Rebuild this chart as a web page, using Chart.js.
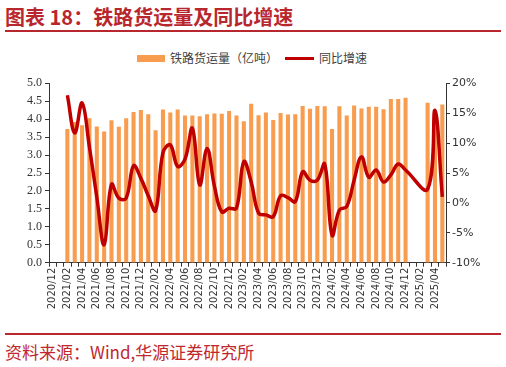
<!DOCTYPE html>
<html>
<head>
<meta charset="utf-8">
<script src="https://cdn.jsdelivr.net/npm/chart.js@4/dist/chart.umd.min.js"></script>
<style>
  html, body { margin: 0; padding: 0; background: #fff; }
  body { width: 506px; height: 367px; position: relative; overflow: hidden; font-family: "Noto Sans CJK SC", sans-serif; }
  #title { position: absolute; left: 5px; top: 2px; font-size: 20px; font-weight: bold; color: #b8272d; white-space: nowrap; letter-spacing: 0px; }
  #topline { position: absolute; left: 5px; top: 30px; width: 496px; height: 1.5px; background: #b8272d; }
  #botline { position: absolute; left: 5px; top: 333px; width: 496px; height: 1.5px; background: #b8272d; }
  #source { position: absolute; left: 5px; top: 341px; font-size: 17px; color: #c0282e; white-space: nowrap; line-height: 22px; }
  .leg { position: absolute; font-size: 12px; color: #404040; white-space: nowrap; line-height: 14px; }
  #legBar { position: absolute; left: 137px; top: 55px; width: 28px; height: 7px; background: #F89C4F; }
  #legLine { position: absolute; left: 285px; top: 57px; width: 29px; height: 3px; background: #C00000; }
  canvas { position: absolute; left: 0; top: 70px; }
</style>
</head>
<body>
<div id="title">图表 18：铁路货运量及同比增速</div>
<div id="topline"></div>
<div id="legBar"></div>
<div class="leg" style="left:170px; top:51px;">铁路货运量（亿吨）</div>
<div id="legLine"></div>
<div class="leg" style="left:319px; top:51px;">同比增速</div>
<canvas id="c" width="506" height="250"></canvas>
<div id="botline"></div>
<div id="source">资料来源：Wind,华源证券研究所</div>
<script>
const months = [
  "2020/12",
  "2021/01","2021/02","2021/03","2021/04","2021/05","2021/06","2021/07","2021/08","2021/09","2021/10","2021/11","2021/12",
  "2022/01","2022/02","2022/03","2022/04","2022/05","2022/06","2022/07","2022/08","2022/09","2022/10","2022/11","2022/12",
  "2023/01","2023/02","2023/03","2023/04","2023/05","2023/06","2023/07","2023/08","2023/09","2023/10","2023/11","2023/12",
  "2024/01","2024/02","2024/03","2024/04","2024/05","2024/06","2024/07","2024/08","2024/09","2024/10","2024/11","2024/12",
  "2025/01","2025/02","2025/03","2025/04","2025/05"
];
const freightVolume = [
  null,
  null, 3.72, 3.91, 3.82, 4.02, 3.79, 3.65, 3.96, 3.78, 4.02, 4.19, 4.25,
  4.13, 3.68, 4.26, 4.18, 4.26, 4.09, 4.09, 4.07, 4.13, 4.15, 4.14, 4.22,
  4.09, 3.93, 4.42, 4.10, 4.18, 3.97, 4.16, 4.12, 4.13, 4.36, 4.28, 4.36,
  4.35, 3.72, 4.35, 4.09, 4.37, 4.29, 4.34, 4.34, 4.27, 4.55, 4.55, 4.59,
  null, null, 4.45, 4.20, 4.40
];
const yoyGrowth = [
  null,
  null, 18.0, 11.7, 16.7, 9.3, 1.0, -7.0, 3.1, 0.8, 0.8, 6.2, 4.1,
  1.2, -1.3, 8.4, 9.7, 6.1, 7.3, 12.5, 3.0, 9.1, 2.8, -1.5, -0.9,
  -0.9, 6.9, 3.5, -1.7, -2.0, -2.3, 1.2, 0.9, 0.2, 5.2, 3.8, 3.8,
  6.5, -5.4, -1.2, -0.6, 3.8, 7.7, 4.3, 5.5, 3.5, 4.7, 6.5, 5.5,
  null, null, 2.3, 15.5, 1.0
];
const seriesNames = ["铁路货运量（亿吨）", "同比增速"];

const axisColor = "#333333";
new Chart(document.getElementById("c"), {
  type: "bar",
  data: {
    labels: months,
    datasets: [
      {
        type: "line",
        label: seriesNames[1],
        data: yoyGrowth,
        yAxisID: "yR",
        borderColor: "#C00000",
        backgroundColor: "#C00000",
        borderWidth: 3.5,
        pointRadius: 0,
        tension: 0.4,
        spanGaps: true,
        order: 0
      },
      {
        type: "bar",
        label: seriesNames[0],
        data: freightVolume,
        yAxisID: "yL",
        backgroundColor: "#F89C4F",
        barThickness: 3.4,
        order: 1
      }
    ]
  },
  options: {
    responsive: false,
    animation: false,
    devicePixelRatio: 1,
    layout: { padding: { top: 13.3, left: 0, right: 0, bottom: 0 } },
    plugins: { legend: { display: false }, tooltip: { enabled: false } },
    scales: {
      x: {
        grid: { display: true, drawOnChartArea: false, drawTicks: true, tickLength: 4, color: axisColor, offset: true },
        border: { display: true, color: axisColor, width: 1 },
        ticks: {
          autoSkip: false, maxRotation: 90, minRotation: 90, padding: 1,
          color: axisColor, font: { family: "DejaVu Sans", size: 10 },
          callback: function (v, i) { return i % 2 === 0 ? months[i] : ""; }
        },
        afterFit: function (s) { s.height = 57.3; }
      },
      yL: {
        position: "left", min: 0, max: 5,
        grid: { drawOnChartArea: false, drawTicks: true, tickLength: 4, color: axisColor },
        border: { display: true, color: axisColor, width: 1 },
        ticks: {
          stepSize: 0.5, padding: 3, color: axisColor,
          font: { family: "Liberation Serif", size: 12 },
          callback: function (v) { return Number(v).toFixed(1); }
        },
        afterFit: function (s) { s.width = 49; }
      },
      yR: {
        position: "right", min: -10, max: 20,
        grid: { drawOnChartArea: false, drawTicks: true, tickLength: 4, color: axisColor },
        border: { display: true, color: axisColor, width: 1 },
        ticks: {
          stepSize: 5, padding: 2, color: axisColor,
          font: { family: "DejaVu Sans", size: 11 },
          callback: function (v) { return v + "%"; }
        },
        afterFit: function (s) { s.width = 60; }
      }
    }
  }
});
</script>
</body>
</html>
